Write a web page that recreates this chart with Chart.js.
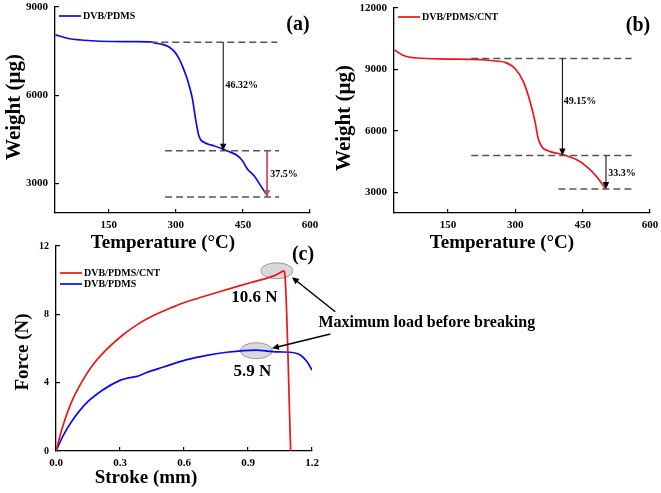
<!DOCTYPE html>
<html>
<head>
<meta charset="utf-8">
<script src="https://cdn.jsdelivr.net/npm/chart.js@4.4.1/dist/chart.umd.min.js"></script>
<style>
  html, body { margin: 0; padding: 0; background: #fff; }
  #page { position: relative; width: 661px; height: 493px; overflow: hidden; }
  .panel { position: absolute; }
</style>
</head>
<body>
<div id="page">
  <div class="panel" style="left:0;top:240px;width:661px;height:253px"><canvas id="chartC"></canvas></div>
  <div class="panel" style="left:0;top:0;width:330px;height:256px"><canvas id="chartA"></canvas></div>
  <div class="panel" style="left:330px;top:0;width:331px;height:256px"><canvas id="chartB"></canvas></div>
</div>
<script>
// (a) TGA of DVB/PDMS
const tempA = [31, 57, 94, 131, 206, 243, 255, 270, 284, 296, 307, 316, 325, 331, 337, 344, 351, 356, 363, 374, 385, 407, 423, 438, 449, 460, 475, 490, 505];
const weightA = [8053, 7939, 7871, 7837, 7824, 7813, 7775, 7730, 7651, 7500, 7257, 6950, 6577, 6270, 5898, 5218, 4651, 4480, 4403, 4330, 4287, 4160, 4060, 3947, 3776, 3492, 3263, 2921, 2579];
const levelsA = [7803, 4118, 2544];
const lossA = ['46.32%', '37.5%'];

// (b) TGA of DVB/PDMS/CNT
const tempB = [31, 50, 80, 147, 206, 240, 255, 277, 299, 318, 333, 344, 351, 359, 374, 403, 437, 459, 481, 501];
const weightB = [9950, 9699, 9560, 9510, 9490, 9450, 9415, 9351, 9059, 8405, 7429, 6454, 5644, 5234, 5025, 4863, 4593, 4267, 3780, 3180];
const levelsB = [9539, 4802, 3167];
const lossB = ['49.15%', '33.3%'];

// (c) force vs stroke
const strokeCNT = [0, 0.031, 0.07, 0.117, 0.172, 0.234, 0.313, 0.39, 0.469, 0.547, 0.609, 0.754, 0.91, 1.02, 1.059, 1.067, 1.073, 1.10];
const forceCNT = [0, 1.42, 2.79, 3.96, 5.03, 5.91, 6.79, 7.47, 8.0, 8.42, 8.72, 9.28, 9.85, 10.25, 10.5, 10.55, 10.3, 0];
const strokePDMS = [0, 0.031, 0.078, 0.141, 0.219, 0.297, 0.34, 0.375, 0.422, 0.5, 0.609, 0.707, 0.80, 0.879, 0.939, 0.989, 1.045, 1.098, 1.145, 1.177, 1.2];
const forcePDMS = [0, 0.84, 1.81, 2.79, 3.57, 4.12, 4.28, 4.35, 4.58, 4.9, 5.33, 5.6, 5.78, 5.88, 5.9, 5.85, 5.8, 5.78, 5.62, 5.23, 4.74];
const peakForce = [10.6, 5.9];

// tick labels
const tempTicks = [150, 300, 450, 600];
const weightTicksA = [3000, 6000, 9000];
const weightTicksB = [3000, 6000, 9000, 12000];
const strokeTicks = [0, 0.3, 0.6, 0.9, 1.2];
const forceTicks = [0, 4, 8, 12];

const FONT = '"Liberation Serif", "Times New Roman", serif';
const BLUE = '#0a0af0';
const RED = '#f01414';

function pts(xs, ys) { return xs.map((v, i) => ({ x: v, y: ys[i] })); }

function axis(min, max, ticks, fmt, size, pad, fixed, horizontal) {
  return {
    type: 'linear', min, max,
    afterBuildTicks: s => { s.ticks = ticks.map(v => ({ value: v })); },
    afterFit: s => {
      if (horizontal) s.height = fixed; else s.width = fixed;
      s.paddingLeft = s.paddingRight = s.paddingTop = s.paddingBottom = 0;
    },
    ticks: { callback: fmt, color: '#000', padding: pad, maxRotation: 0, autoSkip: false,
             font: { family: FONT, size: size, weight: 'bold' } },
    grid: { drawOnChartArea: false, tickLength: -4, color: '#000', lineWidth: 1.2 },
    border: { color: '#000', width: 1.3 }
  };
}

function line(data, color) {
  return { data, borderColor: color, borderWidth: 1.7, pointRadius: 0, fill: false,
           cubicInterpolationMode: 'monotone' };
}

function text(ctx, str, x, y, size, align, rot) {
  ctx.save();
  ctx.font = 'bold ' + size + 'px ' + FONT;
  ctx.fillStyle = '#000';
  ctx.textAlign = align || 'center';
  ctx.textBaseline = 'middle';
  ctx.translate(x, y);
  if (rot) ctx.rotate(rot);
  ctx.fillText(str, 0, 0);
  ctx.restore();
}

function dash(ctx, x1, x2, y) {
  ctx.save();
  ctx.strokeStyle = '#555';
  ctx.lineWidth = 1.5;
  ctx.setLineDash([7, 4]);
  ctx.beginPath(); ctx.moveTo(x1, y); ctx.lineTo(x2, y); ctx.stroke();
  ctx.restore();
}

function arrow(ctx, x1, y1, x2, y2, color, w) {
  const a = Math.atan2(y2 - y1, x2 - x1);
  const hl = 7, hw = 3.2;
  ctx.save();
  ctx.strokeStyle = color; ctx.fillStyle = color; ctx.lineWidth = w;
  ctx.beginPath(); ctx.moveTo(x1, y1);
  ctx.lineTo(x2 - Math.cos(a) * hl * 0.8, y2 - Math.sin(a) * hl * 0.8); ctx.stroke();
  ctx.beginPath();
  ctx.moveTo(x2, y2);
  ctx.lineTo(x2 - Math.cos(a) * hl - Math.sin(a) * hw, y2 - Math.sin(a) * hl + Math.cos(a) * hw);
  ctx.lineTo(x2 - Math.cos(a) * hl + Math.sin(a) * hw, y2 - Math.sin(a) * hl - Math.cos(a) * hw);
  ctx.closePath(); ctx.fill();
  ctx.restore();
}

function legend(ctx, items, x, y, step) {
  items.forEach((it, i) => {
    const yy = y + i * step;
    ctx.save();
    ctx.strokeStyle = it.color; ctx.lineWidth = 1.7;
    ctx.beginPath(); ctx.moveTo(x, yy); ctx.lineTo(x + 22, yy); ctx.stroke();
    ctx.restore();
    text(ctx, it.label, x + 24, yy, 10, 'left');
  });
}

// TGA panel decorations: dashed step levels, arrows and loss labels
function tgaDecor(id, levels, dashes, arrows, labels, losses, arrowColors, title, legendItem) {
  return {
    id,
    afterDatasetsDraw(chart) {
      const { ctx, chartArea: ca, scales: { x, y } } = chart;
      levels.forEach((lv, i) => dash(ctx, x.getPixelForValue(dashes[i][0]), x.getPixelForValue(dashes[i][1]), y.getPixelForValue(lv)));
      arrows.forEach((ax, i) => {
        const px = x.getPixelForValue(ax);
        arrow(ctx, px, y.getPixelForValue(levels[i]), px, y.getPixelForValue(levels[i + 1]), arrowColors[i], arrowColors[i] === '#000' ? 1 : 1.8);
        text(ctx, losses[i], x.getPixelForValue(labels[i][0]), y.getPixelForValue(labels[i][1]), 10, 'left');
      });
      legend(ctx, [legendItem], ca.left + 4, ca.top + 9, 0);
      text(ctx, title, ca.right - 12, ca.top + 18, 20, 'center');
      text(ctx, 'Weight (\u03bcg)', 15, ca.top + 100 + (id === 'decorB' ? 10 : 0), 21, 'center', -Math.PI / 2);
      text(ctx, 'Temperature (\u00b0C)', ca.left + 108, 243, 19, 'center');
    }
  };
}

const common = {
  responsive: true, maintainAspectRatio: false, animation: false, events: [],
  plugins: { legend: { display: false }, tooltip: { enabled: false } }
};

new Chart(document.getElementById('chartA'), {
  type: 'line',
  data: { datasets: [line(pts(tempA, weightA), BLUE)] },
  options: Object.assign({}, common, {
    layout: { padding: { top: 7, right: 20, left: 0, bottom: 0 } },
    scales: {
      x: axis(30, 600, tempTicks, v => String(v), 11, 10, 43, true),
      y: axis(2000, 9000, weightTicksA, v => String(v), 11, 11, 55, false)
    }
  }),
  plugins: [tgaDecor('decorA', levelsA, [[243, 527], [276, 531], [276, 531]], [406, 504],
    [[411, 6340], [511, 3300]], lossA, ['#000', '#c8506e'], '(a)', { color: BLUE, label: 'DVB/PDMS' })]
});

new Chart(document.getElementById('chartB'), {
  type: 'line',
  data: { datasets: [line(pts(tempB, weightB), RED)] },
  options: Object.assign({}, common, {
    layout: { padding: { top: 8, right: 11, left: 0, bottom: 0 } },
    scales: {
      x: axis(30, 600, tempTicks, v => String(v), 11, 10, 43, true),
      y: axis(2000, 12000, weightTicksB, v => String(v), 11, 11, 64, false)
    }
  }),
  plugins: [tgaDecor('decorB', levelsB, [[202, 559], [202, 559], [396, 567]], [405, 502],
    [[408, 7430], [507, 3910]], lossB, ['#000', '#000'], '(b)', { color: RED, label: 'DVB/PDMS/CNT' })]
});

// (c) annotations: grey ellipses around the peaks, labels and pointer arrows
const decorC = {
  id: 'decorC',
  beforeDatasetsDraw(chart) {
    const { ctx, scales: { x, y } } = chart;
    [[1.035, 10.55], [0.939, 5.87]].forEach(p => {
      ctx.save();
      ctx.fillStyle = '#d9d9d9'; ctx.strokeStyle = '#9a9a9a'; ctx.lineWidth = 1;
      ctx.beginPath();
      ctx.ellipse(x.getPixelForValue(p[0]), y.getPixelForValue(p[1]), 16, 8, 0, 0, Math.PI * 2);
      ctx.fill(); ctx.stroke();
      ctx.restore();
    });
  },
  afterDatasetsDraw(chart) {
    const { ctx, chartArea: ca, scales: { x, y } } = chart;
    text(ctx, peakForce[0] + ' N', x.getPixelForValue(0.93), y.getPixelForValue(9.0), 17, 'center');
    text(ctx, peakForce[1] + ' N', x.getPixelForValue(0.92), y.getPixelForValue(4.65), 17, 'center');
    arrow(ctx, x.getPixelForValue(1.309), y.getPixelForValue(8.15), x.getPixelForValue(1.106), y.getPixelForValue(10.17), '#000', 1.5);
    arrow(ctx, x.getPixelForValue(1.286), y.getPixelForValue(6.85), x.getPixelForValue(1.012), y.getPixelForValue(6.01), '#000', 1.5);
    text(ctx, 'Maximum load before breaking', x.getPixelForValue(1.23), y.getPixelForValue(7.5), 16, 'left');
    legend(ctx, [{ color: RED, label: 'DVB/PDMS/CNT' }, { color: BLUE, label: 'DVB/PDMS' }], ca.left + 4, ca.top + 27, 11);
    text(ctx, '(c)', 303, 15, 20, 'center');
    text(ctx, 'Force (N)', 23, 112, 19, 'center', -Math.PI / 2);
    text(ctx, 'Stroke (mm)', 146, 238, 19, 'center');
  }
};

new Chart(document.getElementById('chartC'), {
  type: 'line',
  data: { datasets: [line(pts(strokeCNT, forceCNT), RED), line(pts(strokePDMS, forcePDMS), BLUE)] },
  options: Object.assign({}, common, {
    layout: { padding: { top: 6, right: 349, left: 0, bottom: 0 } },
    scales: {
      x: axis(0, 1.2, strokeTicks, v => v.toFixed(1), 11, 10, 42, true),
      y: axis(0, 12, forceTicks, v => String(v), 10, 11, 56, false)
    }
  }),
  plugins: [decorC]
});
</script>
</body>
</html>
